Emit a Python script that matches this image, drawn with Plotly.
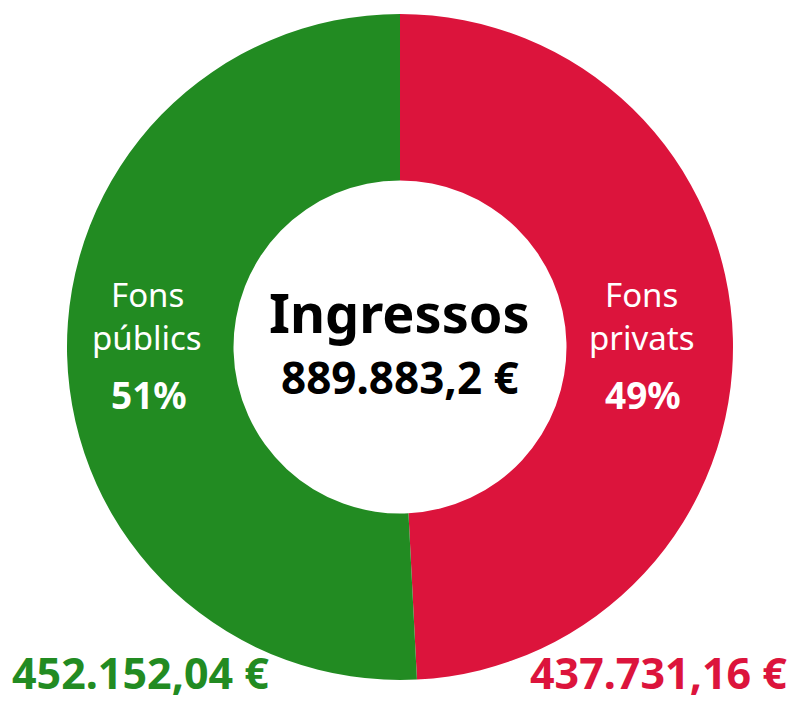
import plotly.graph_objects as go

# data
labels = ["Fons públics", "Fons privats"]
label_lines = [["Fons", "públics"], ["Fons", "privats"]]
values = [452152.04, 437731.16]
colors = ["#228B22", "#DC143C"]
center_title = "Ingressos"

total = sum(values)


def eur(v, decimals):
    s = f"{v:,.{decimals}f}"
    return s.replace(",", "X").replace(".", ",").replace("X", ".") + " €"


W, H = 792, 704
FONT = "Noto Sans"

fig = go.Figure()
fig.add_trace(go.Pie(
    labels=labels[::-1],
    values=values[::-1],
    hole=0.5,
    sort=False,
    direction="clockwise",
    rotation=0,
    marker=dict(colors=colors[::-1], line=dict(width=0)),
    textinfo="none",
    hoverinfo="label+value+percent",
    showlegend=False,
    domain=dict(x=[67 / W, 733 / W], y=[1 - 680 / H, 1 - 14 / H]),
))


def px(x, y, **kw):
    d = dict(x=x / W, y=1 - y / H, xref="paper", yref="paper",
             xanchor="center", yanchor="middle", showarrow=False)
    d.update(kw)
    return d


# slice labels
label_x = [147, 641]
for i in range(2):
    pct = round(values[i] / total * 100)
    fig.add_annotation(**px(label_x[i], 294), text=label_lines[i][0],
                       font=dict(family=FONT, size=33, color="white"))
    fig.add_annotation(**px(label_x[i], 337), text=label_lines[i][1],
                       font=dict(family=FONT, size=33, color="white"))
    fig.add_annotation(**px(label_x[i] + 2, 394), text=f"<b>{pct}%</b>",
                       font=dict(family=FONT, size=37, color="white"))

# centre text
fig.add_annotation(**px(399, 312), text=f"<b>{center_title}</b>",
                   font=dict(family=FONT, size=54, color="black"))
fig.add_annotation(**px(400, 377), text=f"<b>{eur(total, 1)}</b>",
                   font=dict(family=FONT, size=44, color="black"))

# amounts at the bottom
fig.add_annotation(**px(10, 704, xanchor="left", yanchor="bottom"),
                   text=f"<b>{eur(values[0], 2)}</b>",
                   font=dict(family=FONT, size=43, color=colors[0]))
fig.add_annotation(**px(789, 704, xanchor="right", yanchor="bottom"),
                   text=f"<b>{eur(values[1], 2)}</b>",
                   font=dict(family=FONT, size=43, color=colors[1]))

fig.update_layout(
    width=W, height=H,
    margin=dict(l=0, r=0, t=0, b=0),
    paper_bgcolor="white",
    plot_bgcolor="white",
)

fig.write_html("out.html", config={"displayModeBar": False},
               post_script="document.body.style.margin='0';")
